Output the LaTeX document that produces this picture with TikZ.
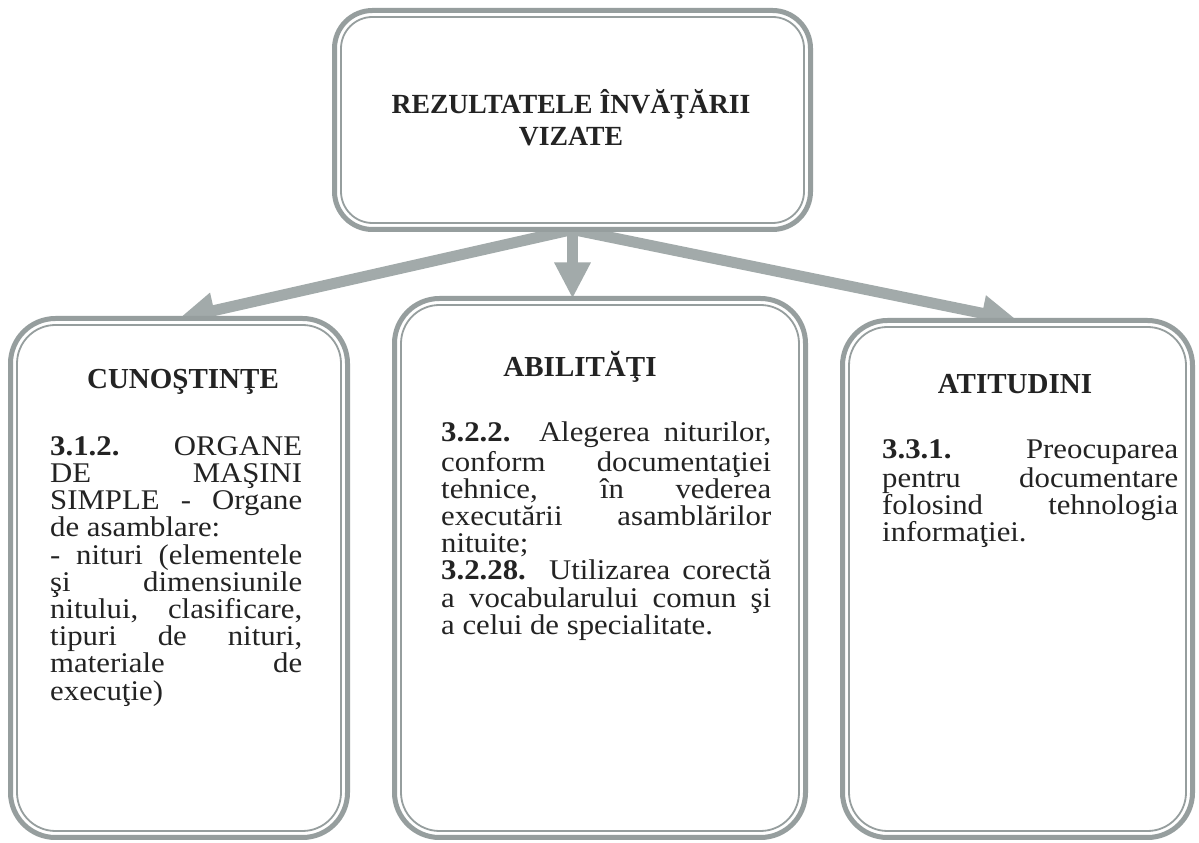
\documentclass[tikz,border=0pt]{standalone}
\usepackage{fontspec}
\setmainfont{Liberation Serif}
\newfontfamily\bodyserif{Liberation Serif}[FakeStretch=1.08]
\usetikzlibrary{arrows.meta}
\definecolor{bordergray}{RGB}{150,158,158}
\definecolor{arrowgray}{RGB}{162,170,170}
\definecolor{inkcol}{RGB}{35,35,35}
\pretolerance=10000
\tolerance=10000
\hbadness=10000
\hyphenpenalty=10000
\pgfdeclarelayer{bg}
\pgfsetlayers{bg,main}
\tikzset{
  frame/.style={draw=bordergray, line width=5pt, fill=white, rectangle, inner sep=0pt, outer sep=0pt},
  innerframe/.style={draw=bordergray, line width=1.8pt},
  bigarrow/.style={draw=arrowgray, line width=11pt, -{Triangle[width=34pt,length=36pt]}},
  headtext/.style={font=\fontsize{29}{32}\selectfont\bfseries, text=inkcol, inner sep=0pt, anchor=base},
  titletext/.style={font=\fontsize{27.7}{32}\selectfont\bfseries, text=inkcol, inner sep=0pt, anchor=north, align=center},
  bodytext/.style={font=\bodyserif\fontsize{28.5}{27.2}\selectfont, text=inkcol, inner sep=0pt, anchor=north west, align=justify},
}
\begin{document}
\begin{tikzpicture}[x=1pt,y=1pt]
\useasboundingbox (0,0) rectangle (1199,843);
% boxes
\node[frame, rounded corners=38pt, minimum width=476pt, minimum height=219pt] (top) at (572.5,723) {};
\node[frame, rounded corners=45pt, minimum width=337pt, minimum height=519pt] (left) at (179,265) {};
\node[frame, rounded corners=45pt, minimum width=411pt, minimum height=539pt] (mid) at (600,275) {};
\node[frame, rounded corners=45pt, minimum width=350pt, minimum height=517pt] (right) at (1017.5,264) {};
% inner lines of the double borders
\draw[innerframe, rounded corners=31.5pt] ([shift={(6.5pt,-6.5pt)}]top.north west) rectangle ([shift={(-6.5pt,6.5pt)}]top.south east);
\draw[innerframe, rounded corners=38.5pt] ([shift={(6.5pt,-6.5pt)}]left.north west) rectangle ([shift={(-6.5pt,6.5pt)}]left.south east);
\draw[innerframe, rounded corners=38.5pt] ([shift={(6.5pt,-6.5pt)}]mid.north west) rectangle ([shift={(-6.5pt,6.5pt)}]mid.south east);
\draw[innerframe, rounded corners=38.5pt] ([shift={(6.5pt,-6.5pt)}]right.north west) rectangle ([shift={(-6.5pt,6.5pt)}]right.south east);
% texts
\node[titletext] (title) at (571,753.4) {\strut REZULTATELE ÎNVĂŢĂRII\\\strut VIZATE};
\node[headtext] (h1) at (183,454) {CUNOŞTINŢE};
\node[headtext] (h2) at (580,466) {ABILITĂŢI};
\node[headtext] (h3) at (1015,449.5) {ATITUDINI};
\node[bodytext, text width=252pt] (b1) at (50,407) {\parindent=0pt\strut\textbf{3.1.2.} ORGANE\linebreak DE MAŞINI\linebreak SIMPLE - Organe\linebreak de asamblare:\par - nituri (elementele\linebreak şi dimensiunile\linebreak nitului, clasificare,\linebreak tipuri de nituri,\linebreak materiale de\linebreak execuţie)};
\node[bodytext, text width=330pt] (b2) at (441,421) {\parindent=0pt\strut\textbf{3.2.2.} Alegerea niturilor,\linebreak conform documentaţiei\linebreak tehnice, în vederea\linebreak executării asamblărilor\linebreak nituite;\par \textbf{3.2.28.} Utilizarea corectă\linebreak a vocabularului comun şi\linebreak a celui de specialitate.};
\node[bodytext, text width=296pt] (b3) at (882,404) {\parindent=0pt\strut\textbf{3.3.1.} Preocuparea\linebreak pentru documentare\linebreak folosind tehnologia\linebreak informaţiei.};
% arrows behind the boxes
\begin{pgfonlayer}{bg}
\fill[white] (0,0) rectangle (1199,843);
\draw[bigarrow] (top.south) -- (left.north);
\draw[bigarrow] (top.south) -- (top.south |- mid.north);
\draw[bigarrow] (top.south) -- (right.north);
\end{pgfonlayer}
\end{tikzpicture}
\end{document}
